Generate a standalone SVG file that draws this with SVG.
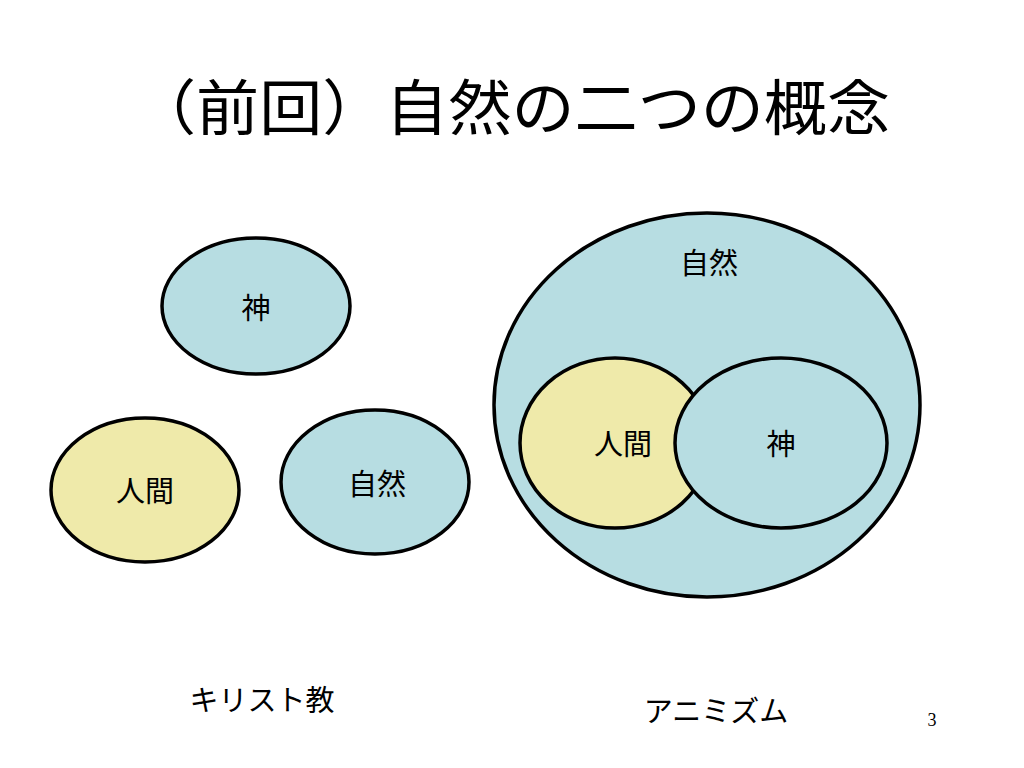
<svg xmlns="http://www.w3.org/2000/svg" width="1024" height="768" viewBox="0 0 1024 768">
<style>
text{font-family:"Noto Sans CJK JP","Liberation Sans",sans-serif;fill:#000}
.lbl{font-size:29px;text-anchor:middle}
.blue{fill:#B7DDE2;stroke:#000;stroke-width:3.5}
.yel{fill:#EFEAAA;stroke:#000;stroke-width:3.5}
</style>
<rect width="1024" height="768" fill="#fff"/>
<text x="133" y="130" font-size="60" textLength="757" lengthAdjust="spacingAndGlyphs">（前回）自然の二つの概念</text>
<g id="god-left"><ellipse class="blue" cx="256" cy="306" rx="94" ry="68"/><text class="lbl" x="256" y="319">神</text></g>
<g id="human-left"><ellipse class="yel" cx="145" cy="490" rx="94" ry="72"/><text class="lbl" x="145" y="502">人間</text></g>
<g id="nature-left"><ellipse class="blue" cx="375" cy="482" rx="94" ry="72"/><text class="lbl" x="377" y="495">自然</text></g>
<g id="nature-right"><ellipse class="blue" cx="707" cy="405" rx="213" ry="192"/><text class="lbl" x="709" y="274">自然</text></g>
<g id="human-right"><ellipse class="yel" cx="615" cy="443" rx="95" ry="85"/><text class="lbl" x="623" y="455">人間</text></g>
<g id="god-right"><ellipse class="blue" cx="781" cy="443" rx="106" ry="85"/><text class="lbl" x="781" y="455">神</text></g>
<g id="connectors"></g>
<text class="lbl" x="262" y="711">キリスト教</text>
<text class="lbl" x="716" y="722">アニミズム</text>
<text x="932" y="726" font-size="18" text-anchor="middle" style="font-family:'Liberation Serif',serif">3</text>
</svg>
